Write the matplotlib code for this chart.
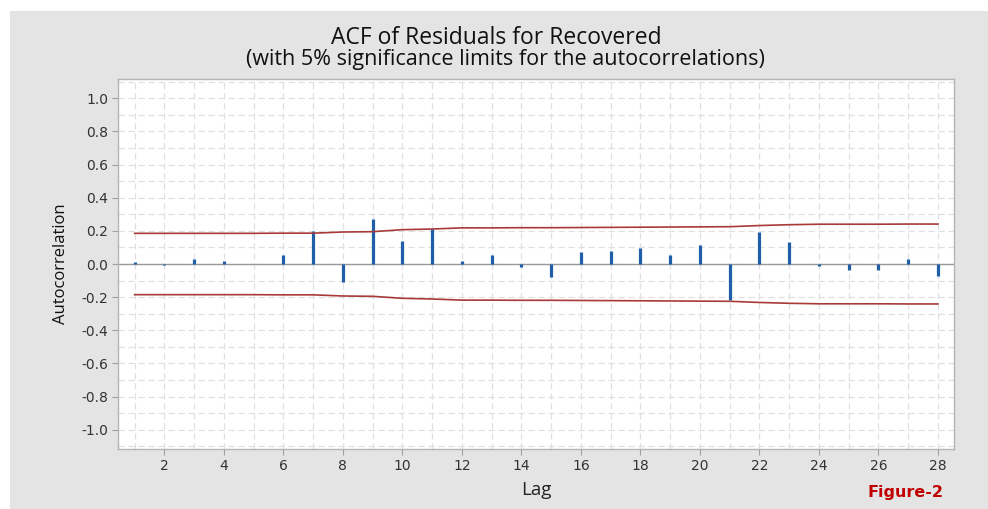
import matplotlib
matplotlib.use("Agg")
import matplotlib.pyplot as plt
from matplotlib.patches import Rectangle
from matplotlib.ticker import MultipleLocator

lags = list(range(1, 29))
acf = [0.012, -0.005, 0.030, 0.018, 0.000, 0.053, 0.200, -0.110,
       0.270, 0.137, 0.210, 0.016, 0.055, -0.020, -0.077, 0.070,
       0.076, 0.094, 0.052, 0.114, -0.217, 0.193, 0.135, -0.014,
       -0.038, -0.038, 0.033, -0.072]
upper_limit = [0.185, 0.185, 0.185, 0.185, 0.185, 0.186, 0.186, 0.193,
               0.195, 0.207, 0.211, 0.218, 0.218, 0.219, 0.219, 0.220,
               0.221, 0.222, 0.223, 0.224, 0.225, 0.232, 0.237, 0.240,
               0.240, 0.240, 0.241, 0.241]
lower_limit = [-v for v in upper_limit]
y_ticks = [-1.0, -0.8, -0.6, -0.4, -0.2, 0.0, 0.2, 0.4, 0.6, 0.8, 1.0]
x_ticks = [2, 4, 6, 8, 10, 12, 14, 16, 18, 20, 22, 24, 26, 28]

FONT = ["Open Sans", "DejaVu Sans"]
plt.rcParams["font.family"] = FONT

W, H = 988, 509
fig = plt.figure(figsize=(W / 100, H / 100), dpi=100, facecolor="white")
bg = Rectangle((10 / W, 0), 1 - 10 / W, 1 - 11 / H,
               transform=fig.transFigure, facecolor="#e4e4e4",
               edgecolor="none", zorder=-10)
fig.add_artist(bg)

ax = fig.add_axes([118 / W, (H - 449) / H, (954 - 118) / W, (449 - 79) / H])
ax.set_zorder(1)
ax.set_facecolor("white")
ax.set_xlim(0.44, 28.54)
ax.set_ylim(-1.116, 1.116)

# grid
ax.xaxis.set_minor_locator(MultipleLocator(1))
ax.yaxis.set_minor_locator(MultipleLocator(0.1))
ax.grid(True, which="both", axis="both", color="#e0e0e0", linestyle=(0, (5, 3)),
        linewidth=0.9)
ax.set_axisbelow(True)
ax.tick_params(which="minor", length=0)

ax.axhline(0, color="#999999", linewidth=1.0, zorder=2)
ax.vlines(lags, 0, acf, color="#1f5fa8", linewidth=2.3, zorder=3)
ax.plot(lags, upper_limit, color="#a83a3a", linewidth=1.2, zorder=4)
ax.plot(lags, lower_limit, color="#a83a3a", linewidth=1.2, zorder=4)

ax.set_xticks(x_ticks)
ax.set_xticklabels([str(v) for v in x_ticks])
ax.set_yticks(y_ticks)
ax.set_yticklabels([f"{v:.1f}" for v in y_ticks])
ax.tick_params(which="major", direction="out", length=4, width=0.8,
               color="#a0a0a0", labelsize=10, labelcolor="#333333", pad=3)
for lbl in ax.get_xticklabels() + ax.get_yticklabels():
    lbl.set_family(["DejaVu Sans"])
for s in ax.spines.values():
    s.set_color("#b4b4b4")
    s.set_linewidth(1.0)

ax.set_xlabel("Lag", fontsize=13.5, color="#222222", labelpad=6)
ax.set_ylabel("Autocorrelation", fontsize=12, color="#111111", labelpad=9)

fig.text(496 / W, 1 - 38 / H, "ACF of Residuals for Recovered", ha="center",
         va="center", fontsize=16.5, color="#111111")
fig.text(505 / W, 1 - 59 / H, "(with 5% significance limits for the autocorrelations)",
         ha="center", va="center", fontsize=15.5, color="#111111")
fig.text(905 / W, 1 - 493 / H, "Figure-2", ha="center", va="center",
         fontsize=11.5, fontweight="bold", color="#c00000",
         family=["DejaVu Sans"])

fig.savefig("out.png", dpi=100, facecolor="white")
